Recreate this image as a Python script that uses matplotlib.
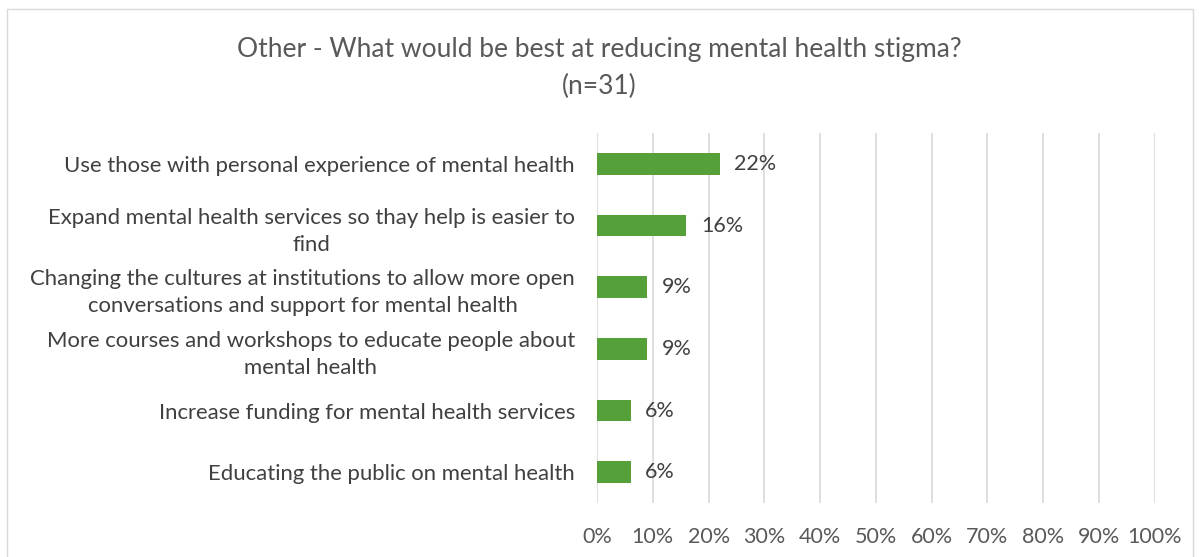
import matplotlib.pyplot as plt
from matplotlib.patches import Rectangle
from matplotlib.ticker import FuncFormatter

categories = [
    "Use those with personal experience of mental health",
    "Expand mental health services so thay help is easier to\nfind",
    "Changing the cultures at institutions to allow more open\nconversations and support for mental health",
    "More courses and workshops to educate people about\nmental health",
    "Increase funding for mental health services",
    "Educating the public on mental health",
]
values = [22, 16, 9, 9, 6, 6]
value_labels = ["22%", "16%", "9%", "9%", "6%", "6%"]
x_ticks = [0, 10, 20, 30, 40, 50, 60, 70, 80, 90, 100]

plt.rcParams['font.family'] = ['Lato', 'DejaVu Sans']

fig = plt.figure(figsize=(11.99, 5.57), dpi=100)
ax = fig.add_axes([0.498, 0.097, 0.465, 0.664])

# outer chart border
fig.patches.append(Rectangle((7 / 1199, -0.01), 1186 / 1199, 1 - 9 / 557 + 0.01,
                             transform=fig.transFigure, fill=False,
                             edgecolor='#D9D9D9', linewidth=1.0))

y = list(range(len(categories)))
ax.barh(y, values, height=0.35, color='#56A03A', zorder=3)
for yi, v, lab in zip(y, values, value_labels):
    ax.text(v + 2.6, yi, lab, va='center', ha='left', fontsize=15.5, color='#404040')

ax.set_xlim(0, 100)
ax.set_ylim(len(categories) - 0.5, -0.5)
ax.set_xticks(x_ticks)
ax.xaxis.set_major_formatter(FuncFormatter(lambda v, p: f"{int(v)}%"))
ax.set_yticks(y)
ax.set_yticklabels(categories, fontsize=15.9, color='#404040', ha='right',
                   linespacing=1.45, multialignment='center')
ax.tick_params(axis='y', length=0, pad=16)
ax.tick_params(axis='x', length=0, pad=17, labelsize=15.5, labelcolor='#595959')
ax.grid(axis='x', color='#D9D9D9', linewidth=1.2, zorder=0)
for s in ax.spines.values():
    s.set_visible(False)

fig.text(0.5, 1 - 50 / 557,
         "Other - What would be best at reducing mental health stigma?",
         ha='center', va='center', fontsize=19, color='#595959')
fig.text(0.5, 1 - 86 / 557, "(n=31)", ha='center', va='center', fontsize=19, color='#595959')

fig.savefig('out.png', dpi=100)
